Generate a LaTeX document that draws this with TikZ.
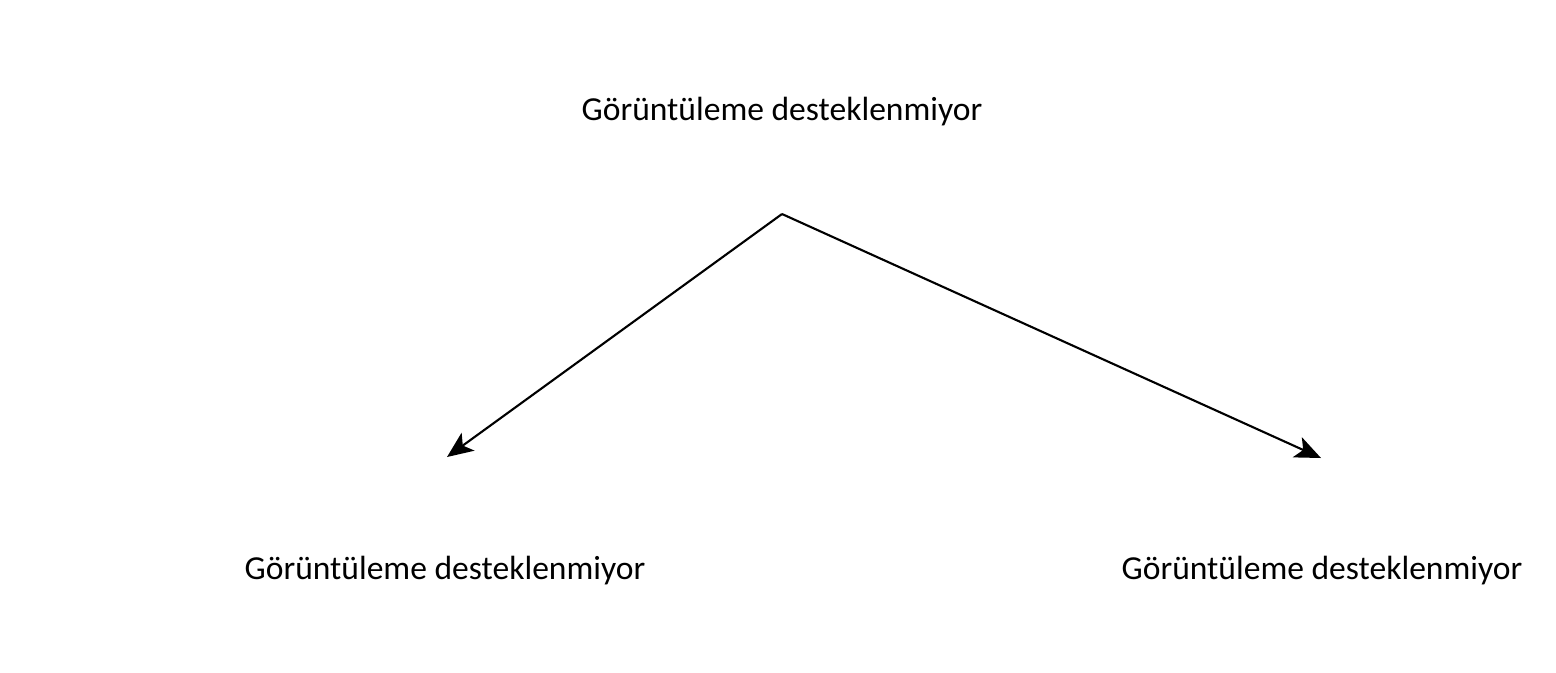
\documentclass[tikz,border=0pt]{standalone}
\usepackage{fontspec}
\setmainfont{Carlito}
\usetikzlibrary{arrows.meta}

\def\Msg{Görüntüleme desteklenmiyor}

\begin{document}
\begin{tikzpicture}[x=1cm,y=1cm,
  every node/.style={font=\fontsize{9.55}{11.5}\selectfont, inner sep=0pt},
  flow/.style={semithick, -{Stealth[length=0.26cm,width=0.22cm,inset=0.065cm]}}]

\useasboundingbox (0,0) rectangle (15.56,-6.72);

% Labels
\node (top) at (7.82,-1.12) {\Msg};
\node (left) at (4.45,-5.71) {\Msg};
\node (right) at (13.22,-5.71) {\Msg};

% Branch points
\coordinate (apex) at (7.82,-2.14);
\coordinate (left tip) at (4.47,-4.57);
\coordinate (right tip) at (13.21,-4.58);

% Flows
\draw [flow] (apex) -- (left tip);
\draw [flow] (apex) -- (right tip);

\end{tikzpicture}
\end{document}
